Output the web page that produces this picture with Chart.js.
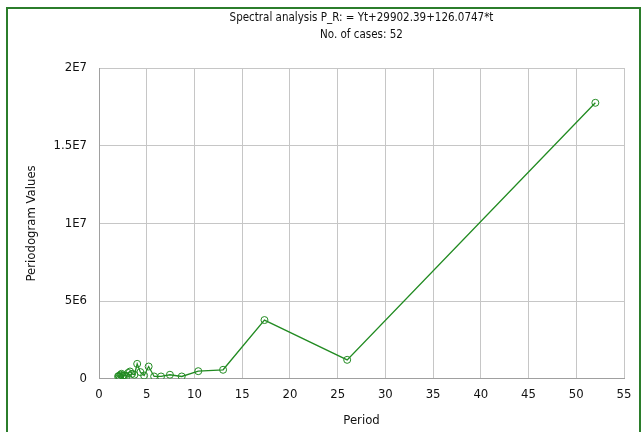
<!DOCTYPE html>
<html>
<head>
<meta charset="utf-8">
<script src="https://cdn.jsdelivr.net/npm/chart.js@4.4.0/dist/chart.umd.min.js"></script>
<style>
  html, body { margin: 0; padding: 0; background: #fff; }
  #wrap { position: relative; width: 643px; height: 432px; overflow: hidden; }
  #frame { position: absolute; left: 6px; top: 7px; width: 635px; height: 440px;
           border: 2px solid #2b7d2b; box-sizing: border-box; }
  #chart { position: absolute; left: 0; top: 0; }
</style>
</head>
<body>
<div id="wrap">
  <div id="frame"></div>
  <canvas id="chart" width="643" height="432"></canvas>
</div>
<script>
const titleLines = ['Spectral analysis P_R: = Yt+29902.39+126.0747*t', 'No. of cases: 52'];
const periods = [52, 26, 17.3333, 13, 10.4, 8.6667, 7.4286, 6.5, 5.7778, 5.2, 4.7273, 4.3333, 4,
    3.7143, 3.4667, 3.25, 3.0588, 2.8889, 2.7368, 2.6, 2.4762, 2.3636, 2.2609, 2.1667, 2.08, 2];
const periodogram = [17760000, 1220000, 3780000, 580000, 490000, 150000, 260000, 150000, 150000, 790000, 210000, 430000, 960000,
    260000, 320000, 470000, 380000, 160000, 210000, 220000, 190000, 320000, 260000, 130000, 190000, 150000];
const xTicks = [0, 5, 10, 15, 20, 25, 30, 35, 40, 45, 50, 55];
const yTickLabels = {0: '0', 5000000: '5E6', 10000000: '1E7', 15000000: '1.5E7', 20000000: '2E7'};

const FONT = "'DejaVu Sans Condensed', 'DejaVu Sans', sans-serif";
const green = 'rgb(34,139,34)';

const chartElement = document.getElementById('chart');
const points = periods.map(function (p, i) { return {x: p, y: periodogram[i]}; });

// title centred over the plot area, like the original
const plotTitle = {
    id: 'plotTitle',
    afterDraw: function (chart) {
        const ctx = chart.ctx;
        const area = chart.chartArea;
        const cx = (area.left + area.right) / 2;
        ctx.save();
        ctx.fillStyle = '#111';
        ctx.font = '11.5px ' + FONT;
        ctx.textAlign = 'center';
        ctx.textBaseline = 'middle';
        ctx.fillText(titleLines[0], cx, 18);
        ctx.fillText(titleLines[1], cx, 35);
        ctx.restore();
    }
};

new Chart(chartElement, {
    type: 'line',
    data: {
        datasets: [{
            data: points,
            borderColor: green,
            borderWidth: 1.3,
            pointRadius: 3.5,
            pointBorderWidth: 1,
            pointBorderColor: green,
            pointBackgroundColor: 'rgba(0,0,0,0)',
            tension: 0
        }]
    },
    plugins: [plotTitle],
    options: {
        responsive: false,
        animation: false,
        events: [],
        layout: { padding: { left: 20, right: 19, top: 68, bottom: 4 } },
        plugins: {
            legend: { display: false },
            tooltip: { enabled: false },
            title: { display: false }
        },
        scales: {
            x: {
                type: 'linear',
                min: 0, max: 55,
                afterBuildTicks: function (axis) { axis.ticks = xTicks.map(function (v) { return {value: v}; }); },
                grid: { color: '#c6c6c6', drawTicks: false, lineWidth: 1 },
                border: { color: '#a0a0a0' },
                ticks: { color: '#111', padding: 8, maxRotation: 0, font: { family: FONT, size: 13 } },
                title: { display: true, text: 'Period', color: '#111', padding: { top: 2, bottom: 0 },
                         font: { family: FONT, size: 13 } }
            },
            y: {
                min: 0, max: 20000000,
                ticks: {
                    stepSize: 5000000,
                    color: '#111',
                    padding: 12,
                    font: { family: FONT, size: 13 },
                    callback: function (v) { return yTickLabels[v]; }
                },
                grid: { color: '#c6c6c6', drawTicks: false, lineWidth: 1 },
                border: { color: '#a0a0a0' },
                title: { display: true, text: 'Periodogram Values', color: '#111', padding: { top: 4, bottom: 4 },
                         font: { family: FONT, size: 13 } },
                afterFit: function (axis) { axis.width = 79; }
            }
        }
    }
});
</script>
</body>
</html>
